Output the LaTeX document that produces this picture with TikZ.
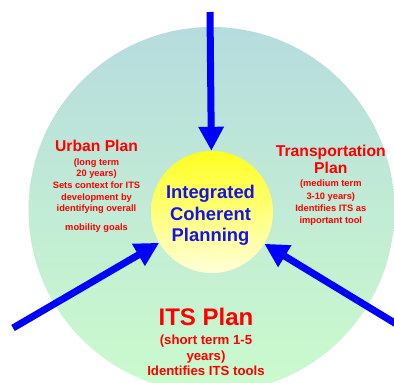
\documentclass[tikz,border=0pt]{standalone}
\usepackage{fontspec}
\setmainfont{Liberation Sans}
\usetikzlibrary{arrows.meta}
\definecolor{redtxt}{HTML}{FF0000}
\definecolor{bluetxt}{HTML}{1414E6}
\definecolor{bigtop}{HTML}{B6DCDE}
\definecolor{bigbot}{HTML}{CCFBCC}
\definecolor{intop}{HTML}{FFFF1E}
\definecolor{inbot}{HTML}{FFFFD8}
\tikzset{
  bigdisc/.style={circle, minimum size=366pt, inner sep=0pt, top color=bigtop, bottom color=bigbot, draw=none},
  innerdisc/.style={circle, minimum size=122pt, inner sep=0pt, top color=intop, bottom color=inbot, draw=none},
  bluearrow/.style={draw=blue, line width=7pt, -{Triangle[width=24pt,length=24pt]}},
  redline/.style={text=redtxt, anchor=base, inner sep=0pt, font=\bfseries\fontsize{9.3}{11}\selectfont},
  redtitle/.style={text=redtxt, anchor=base, inner sep=0pt, font=\bfseries\fontsize{15.7}{17}\selectfont},
  itstitle/.style={text=redtxt, anchor=base, inner sep=0pt, font=\bfseries\fontsize{24}{26}\selectfont},
  itsline/.style={text=redtxt, anchor=base, inner sep=0pt, font=\bfseries\fontsize{13.2}{15}\selectfont},
  blueline/.style={text=bluetxt, anchor=base, inner sep=0pt, font=\bfseries\fontsize{18.4}{20}\selectfont}
}
\begin{document}
\begin{tikzpicture}[x=1pt,y=-1pt]
\useasboundingbox (0,0) rectangle (394,383);
\clip (0,0) rectangle (394,383);
\fill[white] (0,0) rectangle (394,383);
\node[bigdisc] (big) at (211.5,210) {};
\node[innerdisc] (core) at (212,212) {};
\coordinate (ttop) at (210,12);
\coordinate (tleft) at (13,328);
\coordinate (tright) at (398,325);
\draw[bluearrow] (ttop) -- (core);
\draw[bluearrow] (tleft) -- (core);
\draw[bluearrow] (tright) -- (core);
% centre text
\node[blueline] (c1) at (210.5,198.3) {Integrated};
\node[blueline] (c2) at (210.5,220) {Coherent};
\node[blueline] (c3) at (210.5,241.7) {Planning};
% urban plan
\node[redtitle] (u0) at (96.5,151) {Urban Plan};
\node[redline] (u1) at (96.5,165) {(long term};
\node[redline] (u2) at (96.5,176.5) {20 years)};
\node[redline] (u3) at (96.5,188.5) {Sets context for ITS};
\node[redline] (u4) at (96.5,200.2) {development by};
\node[redline] (u5) at (96.5,211.5) {identifying overall};
\node[redline] (u6) at (96.5,230.7) {mobility goals};
% transportation plan
\node[redtitle] (t0) at (330.8,156.7) {Transportation};
\node[redtitle] (t1) at (330.8,173.3) {Plan};
\node[redline] (t2) at (330.8,186.7) {(medium term};
\node[redline] (t3) at (330.8,199) {3-10 years)};
\node[redline] (t4) at (330.8,211.5) {Identifies ITS as};
\node[redline] (t5) at (330.8,223.3) {important tool};
% ITS plan
\node[itstitle] (i0) at (206,325) {ITS Plan};
\node[itsline] (i1) at (206,344.3) {(short term 1-5};
\node[itsline] (i2) at (206,360) {years)};
\node[itsline] (i3) at (206,375.5) {Identifies ITS tools};
\end{tikzpicture}
\end{document}
